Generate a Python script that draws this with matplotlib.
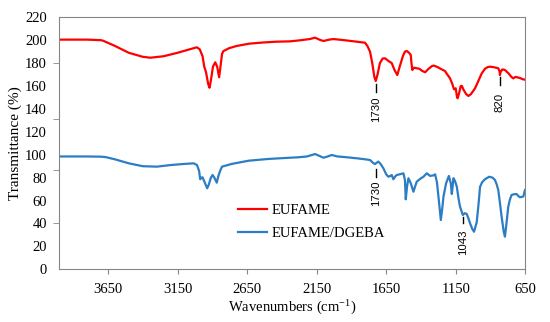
import matplotlib
matplotlib.use("Agg")
import matplotlib.pyplot as plt

plt.rcParams['font.family'] = ['Liberation Serif', 'DejaVu Serif']
plt.rcParams['mathtext.fontset'] = 'custom'
plt.rcParams['mathtext.rm'] = 'Liberation Serif'
plt.rcParams['mathtext.it'] = 'Liberation Serif:italic'

# EUFAME spectrum (wavenumber, transmittance %)
eufame_wn = [4000, 3800, 3700, 3684, 3600, 3500, 3400, 3346, 3250, 3150, 3050, 3011, 2990, 2970,
             2958, 2945, 2930, 2920, 2910, 2895, 2879, 2865, 2851, 2840, 2830, 2820, 2780, 2724,
             2633, 2533, 2440, 2341, 2270, 2200, 2161, 2130, 2101, 2060, 2029, 1950, 1861, 1802,
             1785, 1766, 1750, 1735, 1725, 1712, 1695, 1675, 1658, 1635, 1610, 1590, 1570, 1550,
             1530, 1515, 1502, 1485, 1473, 1468, 1462, 1450, 1430, 1410, 1394, 1370, 1345, 1320,
             1306, 1280, 1250, 1227, 1210, 1191, 1175, 1162, 1150, 1140, 1136, 1125, 1114, 1105,
             1095, 1075, 1059, 1040, 1011, 985, 963, 940, 920, 904, 880, 860, 844, 835, 832, 828,
             815, 796, 770, 750, 736, 720, 705, 688, 670, 652]
eufame_t = [200.5, 200.5, 200, 199.5, 195, 189, 185.5, 184.7, 186, 189, 192.5, 193.8, 192, 186,
            177, 172, 162, 158.5, 165, 177, 180.7, 177, 167.6, 178, 188, 190.5, 193, 195,
            197, 198, 198.7, 199, 199.9, 201, 202.2, 200.5, 199.3, 200.5, 201, 200, 198.7, 197.8,
            195, 190, 180, 168, 164.4, 170, 180, 184, 184.2, 182, 180, 174, 169.6, 178,
            186, 190, 190.6, 189, 187, 180, 174, 176, 175.5, 175, 173.4, 172, 175, 177.5,
            177.8, 176.5, 174.5, 173.1, 170, 166.7, 162, 157.1, 158, 150, 149.3, 154, 160, 160,
            157, 153, 151.3, 153, 158, 165, 171, 175, 176.5, 176.9, 176.5, 176, 175.5, 173, 169.6, 172,
            174.5, 174, 171, 168, 166.7, 168, 167.5, 167, 166, 165.5]

# EUFAME/DGEBA spectrum
blend_wn = [4000, 3800, 3700, 3669, 3600, 3500, 3400, 3299, 3200, 3100, 3034, 3010, 2995, 2987,
            2978, 2970, 2955, 2937, 2925, 2910, 2898, 2885, 2868, 2855, 2840, 2830, 2760, 2638,
            2500, 2400, 2279, 2220, 2161, 2130, 2101, 2070, 2042, 2000, 1950, 1861, 1800, 1766,
            1745, 1730, 1718, 1706, 1690, 1670, 1650, 1634, 1620, 1610, 1598, 1585, 1574, 1550,
            1526, 1515, 1509, 1500, 1490, 1473, 1454, 1440, 1430, 1405, 1382, 1358, 1334, 1310,
            1298, 1285, 1274, 1257, 1245, 1238, 1219, 1199, 1185, 1178, 1166, 1155, 1142, 1130,
            1119, 1099, 1085, 1071, 1060, 1047, 1030, 1018, 999, 985, 975, 960, 940, 909, 885,
            868, 855, 844, 832, 820, 805, 796, 785, 772, 760, 748, 730, 712, 700, 688, 664, 652]
blend_t = [98.5, 98.5, 98.3, 98, 96, 92.5, 90, 89.6, 91, 92, 92.5, 91, 86, 78.6,
           80, 80.3, 76, 70.7, 74, 80, 82.3, 80, 75.6, 82, 87, 89.6, 92, 94.8,
           96.3, 97, 97.8, 98.5, 100.6, 99, 97.4, 98.5, 99.8, 98.5, 98, 96.9, 96, 95.4,
           93, 91.9, 93, 94, 92, 88.2, 83, 80.8, 81.5, 82.3, 78.6, 81, 82.3, 83,
           83.8, 78, 61.1, 72, 79.5, 75.1, 67.7, 73, 76.5, 79, 80.8, 83.8, 81.5, 82,
           82.9, 76, 63.4, 43, 55, 63.4, 75.1, 81.5, 75, 65.7, 79.5, 77, 72.1, 62,
           54.7, 47.4, 49, 48.3, 45, 40.2, 35, 32.8, 41, 58, 72, 76, 78.6, 80.8, 80,
           78, 74, 69.2, 58, 46, 33, 28.5, 40, 54.7, 61, 64.9, 65.5, 65.7, 64, 62.9, 63.5, 69.2]

series_labels = ['EUFAME', 'EUFAME/DGEBA']
x_ticks = [3650, 3150, 2650, 2150, 1650, 1150, 650]
y_ticks = list(range(0, 221, 20))

# peak annotations: label, wavenumber position, line bottom, line top, text centre
annotations = [
    ('1730', 1723, 155, 162, 139.5),
    ('820', 832, 160.5, 168, 145.5),
    ('1730', 1723, 80.8, 87.3, 66.5),
    ('1043', 1095, 40.2, 46, 23.5),
]

fig = plt.figure(figsize=(5.5, 3.22), dpi=100)
ax = fig.add_axes([0.1078, 0.1637, 0.955 - 0.1078, 0.9463 - 0.1637])

ax.plot(eufame_wn, eufame_t, color='#FF0000', lw=1.6, label=series_labels[0])
ax.plot(blend_wn, blend_t, color='#2C7EC4', lw=1.6, label=series_labels[1])

for lab, xw, y0, y1, yt in annotations:
    ax.plot([xw, xw], [y0, y1], color='black', lw=1.0)
    ax.text(xw, yt, lab, rotation=90, ha='center', va='center', fontsize=8.2,
            family=['Liberation Sans', 'DejaVu Sans'])

ax.set_xlim(4000, 650)
ax.set_ylim(0, 220)
ax.set_xticks(x_ticks)
ax.set_yticks(y_ticks)
ax.set_yticks([180.4, 131, 86.7, 40.7], minor=True)
ax.tick_params(axis='x', which='major', length=3.6, color='#868686', labelsize=10.5, pad=6)
ax.tick_params(axis='y', which='major', length=0, labelsize=10.5, pad=9)
ax.tick_params(axis='y', which='minor', length=4.3, color='#868686')
for s in ax.spines.values():
    s.set_color('#868686')
    s.set_linewidth(0.8)

ax.set_xlabel(r'Wavenumbers (cm$^{\mathregular{-1}}$)', fontsize=10.5, labelpad=2)
ax.set_ylabel('Transmittance (%)', fontsize=11, labelpad=2)

ax.legend(loc='center left', bbox_to_anchor=(0.384, 0.187), frameon=False, fontsize=10.5,
          borderpad=0, borderaxespad=0, handlelength=2.0, handletextpad=0.3, labelspacing=0.65)

fig.savefig('out.png', dpi=100)
